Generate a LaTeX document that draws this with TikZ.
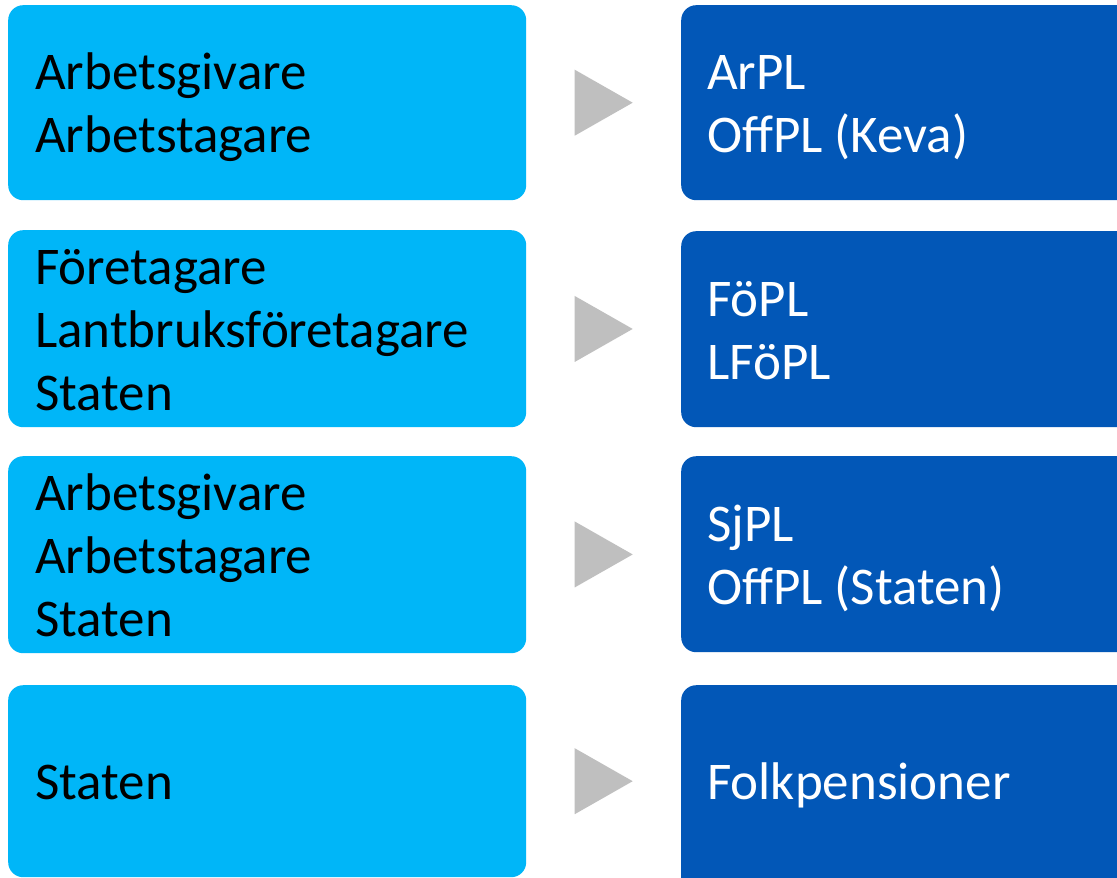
\documentclass[tikz,border=0pt]{standalone}
\usepackage{fontspec}
\setmainfont{Carlito}
\usetikzlibrary{calc}
\definecolor{lightb}{RGB}{0,182,248}
\definecolor{darkb}{RGB}{2,87,183}
\definecolor{arrowgray}{RGB}{191,191,191}
\newcommand\rowstrut{\rule[-13pt]{0pt}{63pt}}
\begin{document}
\begin{tikzpicture}[x=1pt,y=-1pt,
  leftbox/.style={fill=lightb, rounded corners=15pt, minimum width=518pt, minimum height=195pt, anchor=north west, inner sep=0pt},
  rightbox/.style={fill=darkb, rounded corners=15pt, minimum width=470pt, minimum height=195pt, anchor=north west, inner sep=0pt},
  lefttext/.style={anchor=west, align=left, inner sep=0pt, font=\fontsize{53}{63}\selectfont, text=black},
  righttext/.style={anchor=west, align=left, inner sep=0pt, font=\fontsize{53}{63}\selectfont, text=white},
  arrowtri/.style={fill=arrowgray}]
\clip (0,0) rectangle (1117,878);
\fill[white] (0,0) rectangle (1117,878);
% left boxes
\node[leftbox] (l1) at (8,5) {};
\node[leftbox, minimum height=197pt] (l2) at (8,230) {};
\node[leftbox, minimum height=197pt] (l3) at (8,456) {};
\node[leftbox, minimum height=192pt] (l4) at (8,685) {};
% right boxes
\node[rightbox] (r1) at (681,5) {};
\node[rightbox, minimum height=196pt] (r2) at (681,231) {};
\node[rightbox, minimum height=196pt] (r3) at (681,456) {};
\node[rightbox, minimum height=210pt] (r4) at (681,685) {};
% triangles
\foreach \i in {1,2,3} {
  \coordinate (m\i) at ($(l\i.east)!0.5!(r\i.west)$);
  \fill[arrowtri] ($(m\i)+(-29,-33)$) -- ($(m\i)+(29,0)$) -- ($(m\i)+(-29,33)$) -- cycle;
}
\coordinate (m4) at ($(l4.east)!0.5!(l4.east -| r4.west)$);
\fill[arrowtri] ($(m4)+(-29,-33)$) -- ($(m4)+(29,0)$) -- ($(m4)+(-29,33)$) -- cycle;
% texts
\node[lefttext] (tl1) at ([xshift=27pt]l1.west) {\rowstrut Arbetsgivare\\\rowstrut Arbetstagare};
\node[lefttext] (tl2) at ([xshift=27pt]l2.west) {\rowstrut Företagare\\\rowstrut Lantbruksföretagare\\\rowstrut Staten};
\node[lefttext] (tl3) at ([xshift=27pt]l3.west) {\rowstrut Arbetsgivare\\\rowstrut Arbetstagare\\\rowstrut Staten};
\node[lefttext] (tl4) at ([xshift=27pt]l4.west) {\rowstrut Staten};
\node[righttext] (tr1) at ([xshift=26pt]r1.west) {\rowstrut ArPL\\\rowstrut OffPL (Keva)};
\node[righttext] (tr2) at ([xshift=26pt]r2.west) {\rowstrut FöPL\\\rowstrut LFöPL};
\node[righttext] (tr3) at ([xshift=26pt]r3.west) {\rowstrut SjPL\\\rowstrut OffPL (Staten)};
\node[righttext] (tr4) at ([xshift=26pt]r4.west |- l4.west) {\rowstrut Folkpensioner};
\end{tikzpicture}
\end{document}
